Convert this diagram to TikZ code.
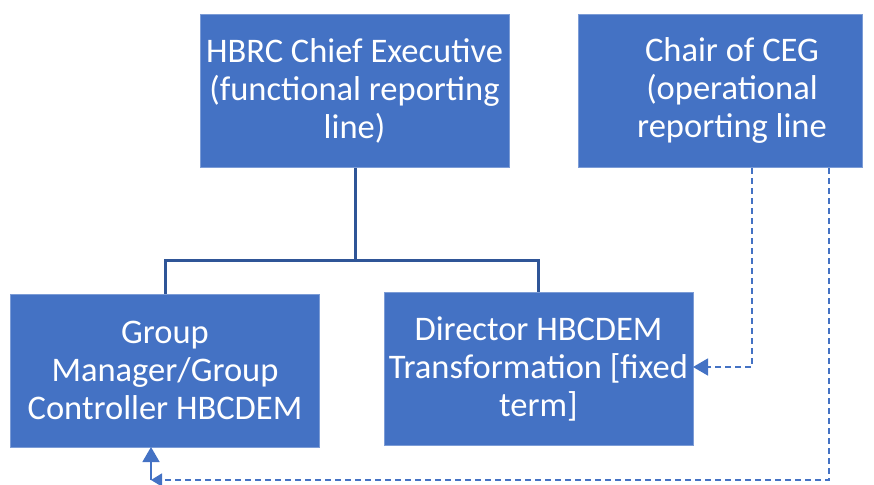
\documentclass[tikz,border=0pt]{standalone}
\usepackage{fontspec}
\setmainfont{Carlito}
\usetikzlibrary{arrows.meta}
\definecolor{boxblue}{HTML}{4472C4}
\definecolor{lineblue}{HTML}{2F5597}
\begin{document}
\begin{tikzpicture}[x=1pt,y=-1pt,
  orgbox/.style={fill=boxblue,draw=boxblue!70!white,line width=0.8pt},
  boxtext/.style={text=white,align=center,font=\fontsize{34.5}{38}\selectfont,inner sep=0pt},
  solidlink/.style={draw=lineblue,line width=3pt},
  dashlink/.style={draw=boxblue,line width=1.5pt,dash pattern=on 6pt off 4pt},
  bigtip/.style={-{Triangle[length=15pt,width=17pt]}}
]
\useasboundingbox (0,0) rectangle (874,484);

% boxes
\path[orgbox] (200,14) rectangle (509,167);
\path[orgbox] (578,14) rectangle (862,167);
\path[orgbox] (10,294) rectangle (319,447);
\path[orgbox] (384,292) rectangle (693,445);

% node anchors for the boxes
\coordinate (ceBot) at (355,168);
\coordinate (cegA) at (752,168);
\coordinate (cegB) at (829,168);
\coordinate (gmTop) at (165,294);
\coordinate (gmBot) at (151,447);
\coordinate (dirTop) at (538,292);
\coordinate (dirRight) at (693,367);

% labels
\node[boxtext] (ce) at (354.5,90.5) {HBRC Chief Executive\\(functional reporting\\line)};
\node[boxtext] (ceg) at (732,90.5) {Chair of CEG\\(operational\\reporting line};
\node[boxtext] (gm) at (165,370.5) {Group\\Manager/Group\\Controller HBCDEM};
\node[boxtext] (dir) at (538.5,368.5) {Director HBCDEM\\Transformation [fixed\\term]};

% functional reporting lines
\coordinate (split) at (355,260);
\draw[solidlink] (ceBot) -- (split);
\draw[solidlink] (split) -| (gmTop);
\draw[solidlink] (split) -| (dirTop);

% operational reporting lines
\coordinate (cornA) at (752,367);
\draw[dashlink,bigtip] (cegA) -- (cornA) -- (dirRight);

\coordinate (cornB) at (829,480);
\coordinate (cornC) at (151,480);
\draw[dashlink,-{Triangle[length=11pt,width=13pt]}] (cegB) -- (cornB) -- (cornC);
\draw[draw=boxblue,line width=1.5pt,bigtip] (cornC) -- (gmBot);
\end{tikzpicture}
\end{document}
